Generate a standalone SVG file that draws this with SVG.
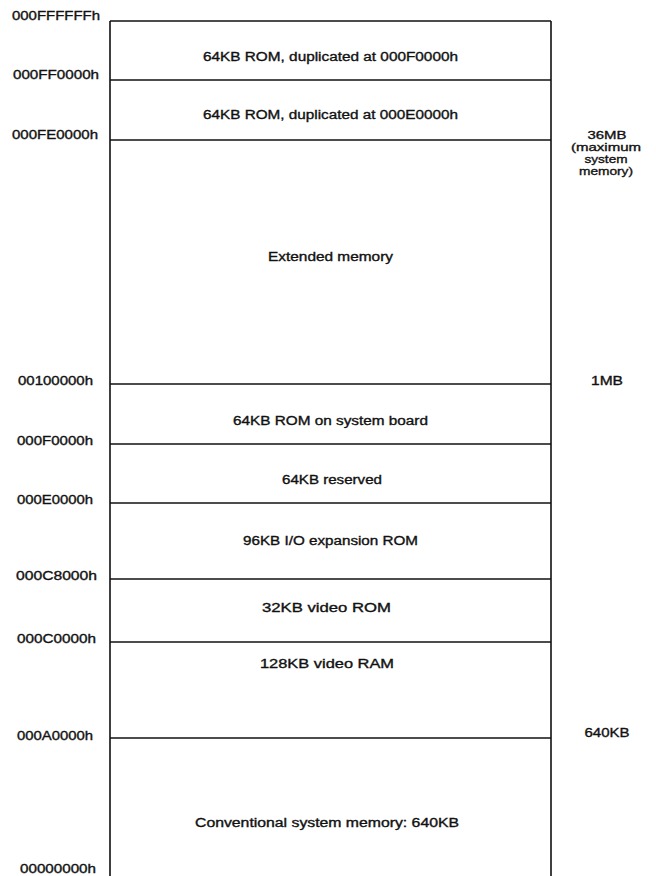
<svg xmlns="http://www.w3.org/2000/svg" width="656" height="876" viewBox="0 0 656 876">
<style>
  .bg { fill: #ffffff; }
  .ln { stroke: #111111; stroke-width: 1.6; fill: none; }
  .t { font-family: "Liberation Sans", Arial, sans-serif; font-size: 12.5px; fill: #111111; stroke: #111111; stroke-width: 0.35; }
  .s { font-size: 11.5px; }
  .c { text-anchor: middle; }
</style>
<rect class="bg" x="0" y="0" width="656" height="876"/>

<g id="memory-map">
  <path class="ln" d="M110,21 H551 M110,21 V880 M551,21 V880"/>
</g>

<g id="rom-ff">
  <line class="ln" x1="110" y1="80" x2="551" y2="80"/>
  <text class="t" x="203" y="61" textLength="255" lengthAdjust="spacingAndGlyphs">64KB ROM, duplicated at 000F0000h</text>
</g>
<g id="rom-fe">
  <line class="ln" x1="110" y1="140" x2="551" y2="140"/>
  <text class="t" x="203" y="119" textLength="255" lengthAdjust="spacingAndGlyphs">64KB ROM, duplicated at 000E0000h</text>
</g>
<g id="extended">
  <line class="ln" x1="110" y1="384" x2="551" y2="384"/>
  <text class="t" x="268" y="261" textLength="125" lengthAdjust="spacingAndGlyphs">Extended memory</text>
</g>
<g id="rom-system-board">
  <line class="ln" x1="110" y1="444" x2="551" y2="444"/>
  <text class="t" x="233" y="425" textLength="195" lengthAdjust="spacingAndGlyphs">64KB ROM on system board</text>
</g>
<g id="reserved">
  <line class="ln" x1="110" y1="503" x2="551" y2="503"/>
  <text class="t" x="282" y="484" textLength="100" lengthAdjust="spacingAndGlyphs">64KB reserved</text>
</g>
<g id="io-expansion">
  <line class="ln" x1="110" y1="579" x2="551" y2="579"/>
  <text class="t" x="243" y="545" textLength="175" lengthAdjust="spacingAndGlyphs">96KB I/O expansion ROM</text>
</g>
<g id="video-rom">
  <line class="ln" x1="110" y1="642" x2="551" y2="642"/>
  <text class="t" x="262" y="612" textLength="129" lengthAdjust="spacingAndGlyphs">32KB video ROM</text>
</g>
<g id="video-ram">
  <line class="ln" x1="110" y1="738" x2="551" y2="738"/>
  <text class="t" x="260" y="668" textLength="134" lengthAdjust="spacingAndGlyphs">128KB video RAM</text>
</g>
<g id="conventional">
  <text class="t" x="195" y="827" textLength="264" lengthAdjust="spacingAndGlyphs">Conventional system memory: 640KB</text>
</g>

<g id="addresses">
  <text class="t" x="12" y="20" textLength="88" lengthAdjust="spacingAndGlyphs">000FFFFFFh</text>
  <text class="t" x="13" y="79" textLength="86" lengthAdjust="spacingAndGlyphs">000FF0000h</text>
  <text class="t" x="12" y="139" textLength="86" lengthAdjust="spacingAndGlyphs">000FE0000h</text>
  <text class="t" x="18" y="385" textLength="75" lengthAdjust="spacingAndGlyphs">00100000h</text>
  <text class="t" x="17" y="445" textLength="76" lengthAdjust="spacingAndGlyphs">000F0000h</text>
  <text class="t" x="17" y="504" textLength="76" lengthAdjust="spacingAndGlyphs">000E0000h</text>
  <text class="t" x="16" y="580" textLength="81" lengthAdjust="spacingAndGlyphs">000C8000h</text>
  <text class="t" x="17" y="643" textLength="79" lengthAdjust="spacingAndGlyphs">000C0000h</text>
  <text class="t" x="17" y="740" textLength="76" lengthAdjust="spacingAndGlyphs">000A0000h</text>
  <text class="t" x="20" y="873" textLength="76" lengthAdjust="spacingAndGlyphs">00000000h</text>
</g>

<g id="sizes">
  <text class="t s c" x="607" y="139" textLength="39" lengthAdjust="spacingAndGlyphs">36MB</text>
  <text class="t s c" x="606" y="151" textLength="70" lengthAdjust="spacingAndGlyphs">(maximum</text>
  <text class="t s c" x="606" y="163" textLength="43" lengthAdjust="spacingAndGlyphs">system</text>
  <text class="t s c" x="606" y="175" textLength="54" lengthAdjust="spacingAndGlyphs">memory)</text>
  <text class="t c" x="607" y="385" textLength="32" lengthAdjust="spacingAndGlyphs">1MB</text>
  <text class="t c" x="607" y="737" textLength="45" lengthAdjust="spacingAndGlyphs">640KB</text>
</g>
</svg>
